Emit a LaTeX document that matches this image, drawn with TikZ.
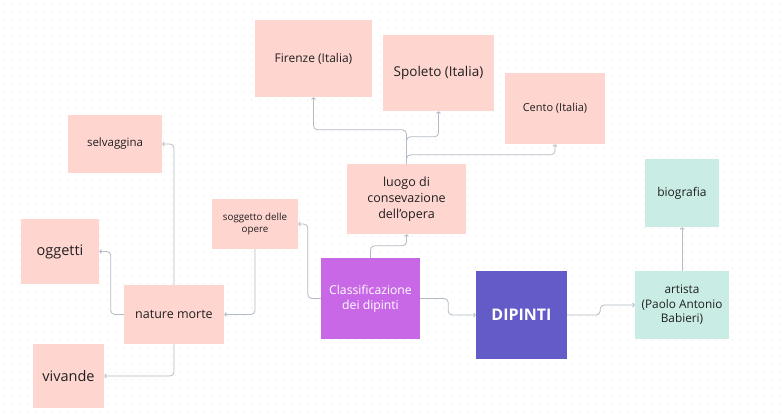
\documentclass[tikz,border=0pt]{standalone}
\usepackage{fontspec}
\setmainfont{Open Sans}
\usetikzlibrary{arrows.meta}

\definecolor{pinkfill}{HTML}{FFD5D0}
\definecolor{tealfill}{HTML}{C9EDE4}
\definecolor{purplefill}{HTML}{C968E6}
\definecolor{indigofill}{HTML}{635BC7}
\definecolor{linkgray}{HTML}{B3BCC6}
\definecolor{dotgray}{HTML}{E4E4E4}

\begin{document}
\begin{tikzpicture}[x=1pt,y=-1pt,
  box/.style={inner sep=2pt,align=center,text=black!88},
  pinkbox/.style={box,fill=pinkfill},
  tealbox/.style={box,fill=tealfill},
  link/.style={draw=linkgray,line width=0.8pt,rounded corners=4pt,
    -{To[length=2.5pt,width=4.5pt]}}]
\useasboundingbox[fill=white] (0,0) rectangle (782,418);

% dotted canvas
\foreach \i in {4,12,...,780}
  \foreach \j in {4,12,...,416}
    \fill[dotgray] (\i,\j) circle (0.7);

\node[pinkbox,minimum width=94,minimum height=58,font=\fontsize{11.5}{13}\selectfont] (selvaggina) at (115,144) {selvaggina};
\node[pinkbox,minimum width=78,minimum height=65,font=\fontsize{14.5}{17}\selectfont] (oggetti) at (60,251.5) {oggetti};
\node[pinkbox,minimum width=86,minimum height=50,font=\fontsize{9.8}{12.5}\selectfont] (soggetto) at (255,224) {soggetto delle\\opere};
\node[pinkbox,minimum width=100,minimum height=59,font=\fontsize{12.5}{15}\selectfont] (nature) at (174,314.5) {nature morte};
\node[pinkbox,minimum width=71,minimum height=64,font=\fontsize{14.5}{17}\selectfont] (vivande) at (68.5,376) {vivande};

\node[pinkbox,minimum width=117,minimum height=77,font=\fontsize{12}{14}\selectfont] (firenze) at (313.5,58.5) {Firenze (Italia)};
\node[pinkbox,minimum width=111,minimum height=76,font=\fontsize{13.5}{16}\selectfont] (spoleto) at (438.5,73) {Spoleto (Italia)};
\node[pinkbox,minimum width=100,minimum height=71,font=\fontsize{11}{13}\selectfont] (cento) at (555,108.5) {Cento (Italia)};
\node[pinkbox,minimum width=119,minimum height=70,font=\fontsize{12.5}{16}\selectfont] (luogo) at (406.5,199) {luogo di\\consevazione\\dell’opera};

\node[box,fill=purplefill,text=white,minimum width=99,minimum height=81,font=\fontsize{12.2}{15}\selectfont] (classif) at (370.5,298.5) {Classificazione\\dei dipinti};
\node[box,fill=indigofill,text=white,minimum width=91,minimum height=88,font=\fontsize{16}{19}\selectfont\bfseries] (dipinti) at (521.5,315) {DIPINTI};

\node[tealbox,minimum width=94,minimum height=68,font=\fontsize{11.8}{14.5}\selectfont] (artista) at (682,305) {artista\\(Paolo Antonio\\Babieri)};
\node[tealbox,minimum width=74,minimum height=68,font=\fontsize{12}{14}\selectfont] (biografia) at (682,193) {biografia};

\draw[link] (classif.west) -- ++(-13,0) |- (soggetto.east);
\draw[link] (classif.north) -- ++(0,-12) -| (luogo.south);
\draw[link] (classif.east) -- ++(28,0) |- (dipinti.west);
\draw[link] (dipinti.east) -- ++(33,0) |- (artista.west);
\draw[link] (artista.north) -- (biografia.south);

\draw[link] (luogo.north) -- ++(0,-34) -| (firenze.south);
\draw[link] (luogo.north) -- ++(0,-27) -| (spoleto.south);
\draw[link] (luogo.north) -- ++(0,-9) -| (cento.south);

\draw[link] (soggetto.south) |- (nature.east);
\draw[link] (nature.west) -- ++(-13,0) |- (oggetti.east);
\draw[link] (nature.north) |- (selvaggina.east);
\draw[link] (nature.south) |- (vivande.east);
\end{tikzpicture}
\end{document}
